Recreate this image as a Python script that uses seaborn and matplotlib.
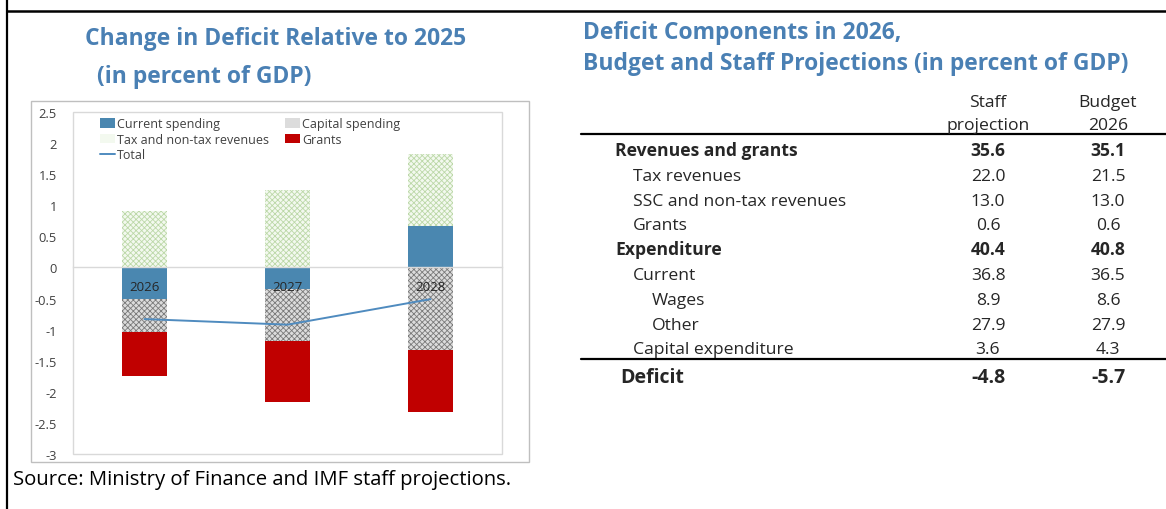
import numpy as np
import pandas as pd
import matplotlib
matplotlib.use("Agg")
import matplotlib.pyplot as plt
from matplotlib.patches import Patch, Rectangle
from matplotlib.lines import Line2D
from matplotlib.ticker import FuncFormatter, FixedLocator
import seaborn as sns

# ---------------- data ----------------
years = ["2026", "2027", "2028"]
current_spending = [-0.50, -0.35, 0.67]
capital_spending = [-0.53, -0.83, -1.32]
tax_nontax_revenues = [0.91, 1.25, 1.15]
grants = [-0.72, -0.99, -1.01]
total = [-0.83, -0.92, -0.51]

y_ticks = [2.5, 2, 1.5, 1, 0.5, 0, -0.5, -1, -1.5, -2, -2.5, -3]

row_labels = ["Revenues and grants", "Tax revenues", "SSC and non-tax revenues",
              "Grants", "Expenditure", "Current", "Wages", "Other",
              "Capital expenditure"]
row_levels = [0, 1, 1, 1, 0, 1, 2, 2, 1]
row_bold = [True, False, False, False, True, False, False, False, False]
staff_projection = [35.6, 22.0, 13.0, 0.6, 40.4, 36.8, 8.9, 27.9, 3.6]
budget_2026 = [35.1, 21.5, 13.0, 0.6, 40.8, 36.5, 8.6, 27.9, 4.3]
deficit_label = "Deficit"
deficit_staff = -4.8
deficit_budget = -5.7
col_headers = ["Staff\nprojection", "Budget\n2026"]

# ---------------- style ----------------
sns.set_style("white")
plt.rcParams["font.family"] = ["Open Sans", "DejaVu Sans"]
plt.rcParams["axes.unicode_minus"] = False
plt.rcParams["hatch.linewidth"] = 0.6

TITLE_BLUE = "#4a80b4"
TICK_GREY = "#404040"

W, H = 1166, 510
fig = plt.figure(figsize=(W / 100, H / 100), dpi=100)


def fx(px):
    return px / W


def fy(py):
    return 1 - py / H


styles = {
    "Current spending": dict(color="#4a87b0", edgecolor="#4a87b0", linewidth=0),
    "Capital spending": dict(color="#dcdcdc", edgecolor="#7a7a7a", hatch="xxxxxx", linewidth=0),
    "Tax and non-tax revenues": dict(color="#f3f9ef", edgecolor="#bcd8a8", hatch="xxxxxx", linewidth=0),
    "Grants": dict(color="#c00000", edgecolor="#c00000", linewidth=0),
}
series = [("Current spending", current_spending),
          ("Capital spending", capital_spending),
          ("Tax and non-tax revenues", tax_nontax_revenues),
          ("Grants", grants)]

# ---------------- chart ----------------
ax = fig.add_axes([fx(73), fy(455), fx(502) - fx(73), fy(113) - fy(455)])

pos_base = np.zeros(len(years))
neg_base = np.zeros(len(years))
for name, vals in series:
    v = np.asarray(vals, dtype=float)
    bottom = np.where(v >= 0, pos_base, neg_base)
    df = pd.DataFrame({"year": years, "value": v})
    sns.barplot(data=df, x="year", y="value", order=years, bottom=bottom,
                width=0.31, errorbar=None, saturation=1, ax=ax, **styles[name])
    pos_base += np.where(v >= 0, v, 0)
    neg_base += np.where(v < 0, v, 0)

sns.lineplot(x=np.arange(len(years)), y=total, color="#4f8bbf", linewidth=1.4,
             ax=ax, zorder=5)

ax.set_xlim(-0.5, len(years) - 0.5)
ax.set_ylim(min(y_ticks), max(y_ticks))
ax.set_xlabel("")
ax.set_ylabel("")
ax.yaxis.set_major_locator(FixedLocator(y_ticks))
ax.yaxis.set_major_formatter(FuncFormatter(lambda v, _: f"{v:g}"))
ax.tick_params(axis="y", length=0, pad=11.5, labelsize=9.3, labelcolor=TICK_GREY)

# category axis runs along zero
for side in ["top", "left", "right"]:
    ax.spines[side].set_visible(False)
ax.spines["bottom"].set_position(("data", 0))
ax.spines["bottom"].set_color("#d9d9d9")
ax.spines["bottom"].set_linewidth(1.0)
ax.set_xticks(np.arange(len(years)))
ax.set_xticklabels([])
ax.set_xticks(np.arange(len(years) - 1) + 0.5, minor=True)
ax.tick_params(axis="x", which="major", length=0)
ax.tick_params(axis="x", which="minor", direction="in", length=4,
               color="#bfbfbf", width=0.8)
for i, yr in enumerate(years):
    ax.annotate(yr, xy=(i, 0), xytext=(0, -14), textcoords="offset points",
                ha="center", va="center", fontsize=9.5, color="#262626",
                zorder=10)

# plot-area box
ax.add_patch(Rectangle((0, 0), 1, 1, transform=ax.transAxes, fill=False,
                       edgecolor="#d9d9d9", linewidth=1.0, clip_on=False, zorder=0))

legend_handles = [
    Patch(label="Current spending", **styles["Current spending"]),
    Patch(label="Tax and non-tax revenues", **styles["Tax and non-tax revenues"]),
    Line2D([0], [0], color="#4f8bbf", linewidth=1.4, label="Total"),
    Patch(label="Capital spending", **styles["Capital spending"]),
    Patch(label="Grants", **styles["Grants"]),
]
ax.legend(handles=legend_handles, ncol=2, loc="upper left",
          bbox_to_anchor=(0.043, 1.01), frameon=False, fontsize=9,
          handlelength=1.2, handleheight=0.75, handletextpad=0.15,
          columnspacing=1.3, labelspacing=0.2, borderpad=0.2,
          labelcolor=TICK_GREY)

# chart frame
fig.add_artist(Rectangle((fx(31), fy(463)), fx(529) - fx(31), fy(102) - fy(463),
                         transform=fig.transFigure, fill=False,
                         edgecolor="#bfbfbf", linewidth=1.0))

# ---------------- titles ----------------
title_kw = dict(color=TITLE_BLUE, fontsize=16.5, fontweight="bold", ha="left",
                va="baseline")
fig.text(fx(85), fy(45), "Change in Deficit Relative to 2025", **title_kw)
fig.text(fx(97), fy(83), "(in percent of GDP)", **title_kw)
fig.text(fx(583), fy(39), "Deficit Components in 2026,", **title_kw)
fig.text(fx(583), fy(70), "Budget and Staff Projections (in percent of GDP)", **title_kw)

fig.text(fx(13), fy(485), "Source: Ministry of Finance and IMF staff projections.",
         fontsize=14.6, color="#000000", ha="left", va="baseline")

# ---------------- table ----------------
TABLE_FS = 12.6
col_x = [988, 1108]
for cx, head in zip(col_x, col_headers):
    top, bottom_line = head.split("\n")
    fig.text(fx(cx), fy(107), top, fontsize=TABLE_FS, ha="center", va="baseline")
    fig.text(fx(cx), fy(130), bottom_line, fontsize=TABLE_FS, ha="center", va="baseline")

indent_x = {0: 615, 1: 633, 2: 652}
row_pitch = 24.8
first_baseline = 156
for i, (lab, lvl, bold, s, b) in enumerate(zip(row_labels, row_levels, row_bold,
                                                 staff_projection, budget_2026)):
    yb = first_baseline + i * row_pitch
    w = "bold" if bold else "normal"
    fig.text(fx(indent_x[lvl]), fy(yb), lab, fontsize=TABLE_FS, fontweight=w,
             ha="left", va="baseline")
    fig.text(fx(col_x[0]), fy(yb), f"{s:.1f}", fontsize=TABLE_FS, fontweight=w,
             ha="center", va="baseline")
    fig.text(fx(col_x[1]), fy(yb), f"{b:.1f}", fontsize=TABLE_FS, fontweight=w,
             ha="center", va="baseline")

fig.text(fx(620), fy(383), deficit_label, fontsize=14, fontweight="bold",
         ha="left", va="baseline")
fig.text(fx(col_x[0]), fy(383), f"{deficit_staff:.1f}", fontsize=14,
         fontweight="bold", ha="center", va="baseline")
fig.text(fx(col_x[1]), fy(383), f"{deficit_budget:.1f}", fontsize=14,
         fontweight="bold", ha="center", va="baseline")

for yl in (135, 360):
    fig.add_artist(Line2D([fx(581), 1], [fy(yl), fy(yl)], color="black",
                          linewidth=1.6, transform=fig.transFigure))

# outer rules
fig.add_artist(Line2D([fx(7), fx(7)], [0, 1], color="black", linewidth=1.6,
                      transform=fig.transFigure))
fig.add_artist(Line2D([fx(7), 1], [fy(12), fy(12)], color="black", linewidth=1.8,
                      transform=fig.transFigure))

fig.savefig("out.png", dpi=100)
